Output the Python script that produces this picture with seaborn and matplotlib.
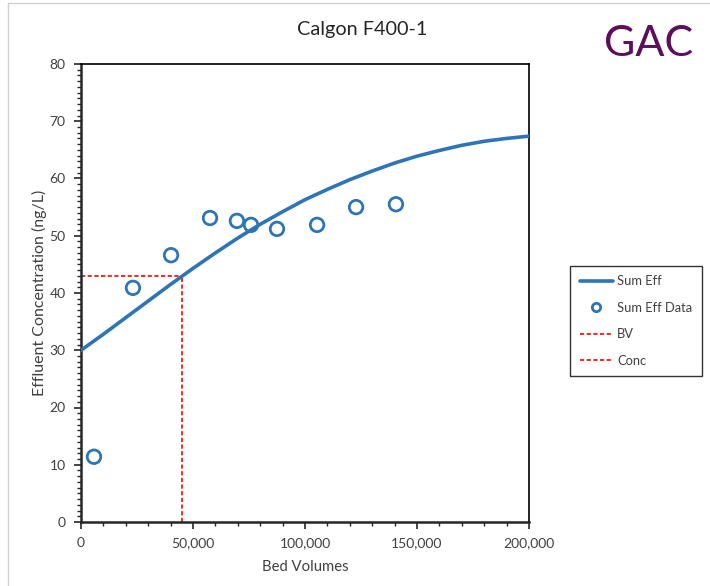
import matplotlib
matplotlib.use("Agg")
import matplotlib.pyplot as plt
import seaborn as sns
import pandas as pd
from matplotlib.ticker import MultipleLocator, FuncFormatter
from matplotlib.lines import Line2D

# ---- data ----
curve_bv = [0, 10000, 20000, 30000, 40000, 50000, 60000, 70000, 80000, 90000, 100000,
            110000, 120000, 130000, 140000, 150000, 160000, 170000, 180000, 190000, 200000]
curve_conc = [30.0, 32.8, 35.7, 38.6, 41.5, 44.3, 47.0, 49.6, 52.0, 54.2, 56.3,
              58.1, 59.8, 61.3, 62.7, 63.9, 64.9, 65.8, 66.5, 67.0, 67.4]

data_bv = [5800, 23200, 40200, 57600, 69600, 75900, 87500, 105400, 122800, 140600]
data_conc = [11.4, 40.9, 46.6, 53.1, 52.6, 51.9, 51.2, 51.9, 55.0, 55.5]

bv_x = [45000, 45000]
bv_y = [0, 43]
conc_x = [0, 45000]
conc_y = [43, 43]

title = "Calgon F400-1"
tag = "GAC"
xlabel = "Bed Volumes"
ylabel = "Effluent Concentration (ng/L)"
legend_labels = ["Sum Eff", "Sum Eff Data", "BV", "Conc"]

# ---- style ----
sns.set_theme(style="white")
plt.rcParams['font.family'] = ['Lato', 'DejaVu Sans']

blue = "#2E75B6"
red = "#FF0000"
txt = "#404040"

fig = plt.figure(figsize=(7.10, 5.86), dpi=100)
ax = fig.add_axes([81/710, 1-522/586, (529-81)/710, (522-64)/586])

curve_df = pd.DataFrame({"bv": curve_bv, "conc": curve_conc})
data_df = pd.DataFrame({"bv": data_bv, "conc": data_conc})

sns.lineplot(data=curve_df, x="bv", y="conc", ax=ax, color=blue, linewidth=2.6, zorder=3)
sns.scatterplot(data=data_df, x="bv", y="conc", ax=ax, marker="o", s=95,
                facecolor="none", edgecolor=blue, linewidth=2.0, zorder=4)
ax.plot(bv_x, bv_y, color=red, linestyle=(0, (2.5, 1.5)), linewidth=1.2, zorder=2)
ax.plot(conc_x, conc_y, color=red, linestyle=(0, (2.5, 1.5)), linewidth=1.2, zorder=2)

ax.set_xlim(0, 200000)
ax.set_ylim(0, 80)
ax.xaxis.set_major_locator(MultipleLocator(50000))
ax.xaxis.set_minor_locator(MultipleLocator(10000))
ax.yaxis.set_major_locator(MultipleLocator(10))
ax.yaxis.set_minor_locator(MultipleLocator(1))
ax.xaxis.set_major_formatter(FuncFormatter(lambda v, p: f"{int(v):,}"))

ax.tick_params(axis="both", which="major", direction="out", length=5, width=1.2,
               color="#262626", labelsize=10, labelcolor=txt, pad=6,
               bottom=True, left=True, top=False, right=False)
ax.tick_params(axis="both", which="minor", direction="out", length=3, width=1.0,
               color="#262626", bottom=True, left=True, top=False, right=False)

for s in ["left", "bottom"]:
    ax.spines[s].set_color("#262626")
    ax.spines[s].set_linewidth(1.8)
for s in ["top", "right"]:
    ax.spines[s].set_color("#000000")
    ax.spines[s].set_linewidth(1.2)

ax.set_xlabel(xlabel, fontsize=10.7, color=txt, labelpad=8)
ax.set_ylabel(ylabel, fontsize=11.5, color=txt, labelpad=2)

fig.text(362/710, 1-30/586, title, ha="center", va="center", fontsize=14.3, color="#262626")
fig.text(649/710, 1-44/586, tag, ha="center", va="center", fontsize=31, color="#5C0F5A")

handles = [
    Line2D([], [], color=blue, linewidth=2.6),
    Line2D([], [], color=blue, marker="o", markersize=6, markerfacecolor="none",
           markeredgewidth=2.0, linestyle="none"),
    Line2D([], [], color=red, linestyle=(0, (2.5, 1.5)), linewidth=1.2),
    Line2D([], [], color=red, linestyle=(0, (2.5, 1.5)), linewidth=1.2),
]
leg = fig.legend(handles, legend_labels, loc="center left",
                 bbox_to_anchor=(570/710, 1-321/586), frameon=True, fancybox=False,
                 edgecolor="#000000", fontsize=9.3, labelspacing=1.12,
                 handlelength=2.6, borderpad=0.75, handletextpad=0.3,
                 borderaxespad=0.0)
leg.get_frame().set_linewidth(1.0)
for t in leg.get_texts():
    t.set_color(txt)

# slide frame lines
fig.add_artist(Line2D([8/710, 8/710], [0, 1-3/586], transform=fig.transFigure,
                      color="#D0D0D0", linewidth=1.0))
fig.add_artist(Line2D([8/710, 1], [1-3/586, 1-3/586], transform=fig.transFigure,
                      color="#D0D0D0", linewidth=1.0))

fig.savefig("out.png", dpi=100)
